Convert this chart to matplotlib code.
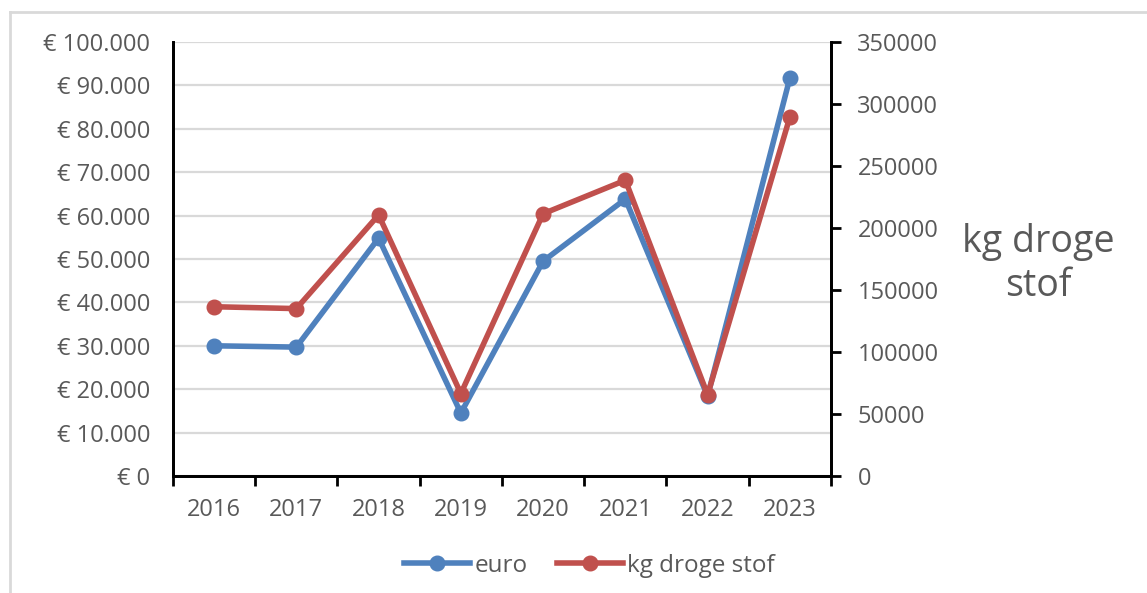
import numpy as np
import matplotlib.pyplot as plt
from matplotlib.lines import Line2D

years = ["2016", "2017", "2018", "2019", "2020", "2021", "2022", "2023"]
euro = [30000, 29700, 54800, 14500, 49500, 63800, 18400, 91700]
kg_droge_stof = [136500, 135000, 210500, 66500, 211500, 238500, 65500, 289500]

euro_ticks = [0, 10000, 20000, 30000, 40000, 50000, 60000, 70000, 80000, 90000, 100000]
kg_ticks = [0, 50000, 100000, 150000, 200000, 250000, 300000, 350000]

blue = "#4F81BD"
red = "#C0504D"
grey_text = "#595959"

plt.rcParams['font.family'] = ['Open Sans', 'DejaVu Sans']

fig = plt.figure(figsize=(11.47, 5.93), dpi=100)
ax = fig.add_axes([0.1508, 0.1973, 0.5737, 0.7319])
ax2 = ax.twinx()

x = np.arange(len(years))
ax.plot(x, euro, color=blue, lw=4, marker="o", ms=10.5, solid_capstyle="round", zorder=3)
ax2.plot(x, kg_droge_stof, color=red, lw=4, marker="o", ms=10.5, solid_capstyle="round", zorder=3)

ax.set_xlim(-0.5, len(years) - 0.5)
ax.set_ylim(0, 100000)
ax2.set_ylim(0, 350000)

# x axis: tick marks between categories, labels centred on categories
ax.set_xticks(np.arange(-0.5, len(years)), labels=[])
ax.set_xticks(x, labels=years, minor=True)
ax.tick_params(axis="x", which="major", length=7, width=2, direction="out", color="black")
ax.tick_params(axis="x", which="minor", length=0, pad=16, labelsize=17, labelcolor=grey_text)

ax.set_yticks(euro_ticks)
ax.set_yticklabels(["€ 0"] + ["€ {:,}".format(v).replace(",", ".") for v in euro_ticks[1:]])
ax.tick_params(axis="y", length=0, pad=16.5, labelsize=17, labelcolor=grey_text)
ax.yaxis.grid(True, color="#D9D9D9", lw=1.6)
ax.set_axisbelow(True)

ax2.set_yticks(kg_ticks)
ax2.set_yticklabels([str(v) for v in kg_ticks])
ax2.tick_params(axis="y", length=7, width=2, direction="out", color="black", pad=12,
                labelsize=17, labelcolor=grey_text)

for a in (ax, ax2):
    a.spines["top"].set_visible(False)
    for s in ("left", "right", "bottom"):
        a.spines[s].set_linewidth(2)
        a.spines[s].set_color("black")

fig.text(0.905, 0.555, "kg droge\nstof", ha="center", va="center", fontsize=27,
         color=grey_text, linespacing=1.2)

handles = [Line2D([], [], color=blue, lw=4, marker="o", ms=10.5),
           Line2D([], [], color=red, lw=4, marker="o", ms=10.5)]
fig.legend(handles, ["euro", "kg droge stof"], loc="center", bbox_to_anchor=(0.514, 0.046),
           ncol=2, frameon=False, fontsize=17.5, labelcolor=grey_text,
           handlelength=2.7, handletextpad=0.2, columnspacing=1.2)

# light chart border (top and left edge)
fig.add_artist(Line2D([0.009, 1.0], [0.98, 0.98], color="#D9D9D9", lw=2, transform=fig.transFigure))
fig.add_artist(Line2D([0.009, 0.009], [0.0, 0.98], color="#D9D9D9", lw=2, transform=fig.transFigure))

fig.savefig("out.png", dpi=100)
